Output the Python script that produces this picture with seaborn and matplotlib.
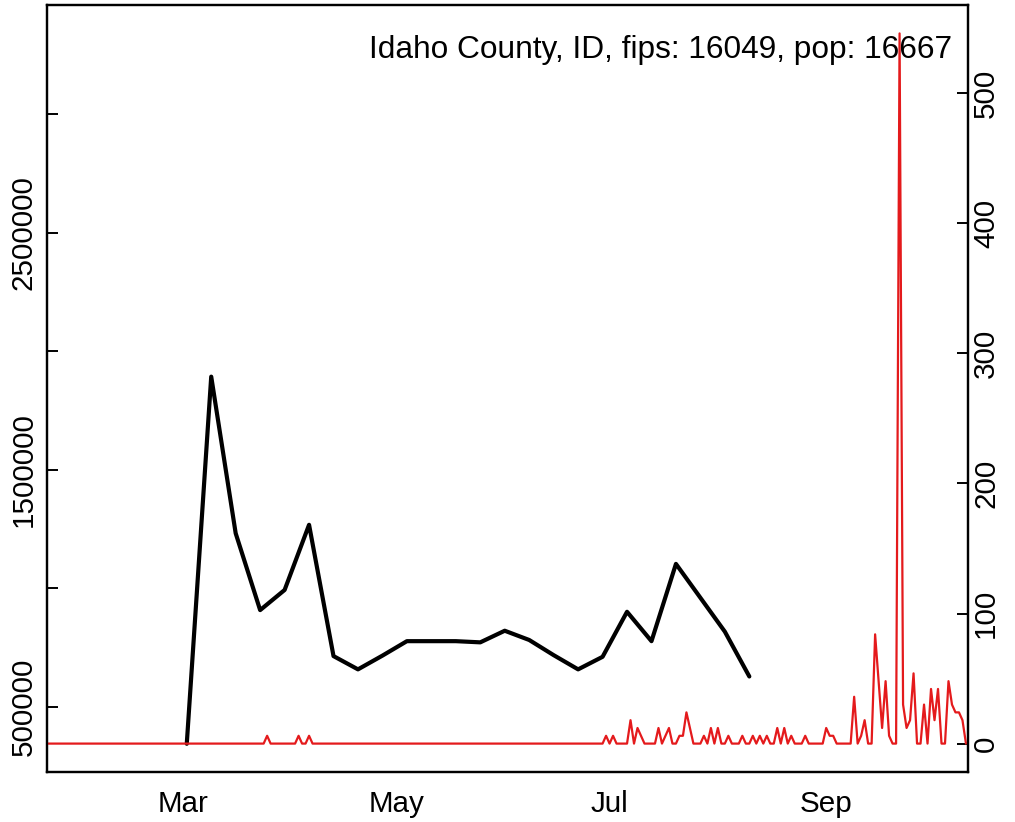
import numpy as np
import pandas as pd
import seaborn as sns
import matplotlib.pyplot as plt
import matplotlib.dates as mdates

# weekly series, left axis
black_start = '2020-03-02'
black_values = [343000, 1892000, 1231000, 907000, 992000, 1267000, 713000, 657000,
                715000, 776000, 776000, 776000, 771000, 820000, 781000, 717000,
                657000, 710000, 900000, 776000, 1102000, 959000, 816000, 627000]

# daily series, right axis (days not listed are 0)
red_first = '2020-01-22'
red_last = '2020-10-11'
red_dates = ['2020-03-25', '2020-04-03', '2020-04-06',
             '2020-06-30', '2020-07-02', '2020-07-07', '2020-07-09', '2020-07-10',
             '2020-07-15', '2020-07-17', '2020-07-18', '2020-07-21', '2020-07-22',
             '2020-07-23', '2020-07-24', '2020-07-28', '2020-07-30', '2020-08-01',
             '2020-08-04', '2020-08-08', '2020-08-11', '2020-08-13', '2020-08-15',
             '2020-08-18', '2020-08-20', '2020-08-22', '2020-08-26',
             '2020-09-01', '2020-09-02', '2020-09-03', '2020-09-09', '2020-09-11',
             '2020-09-12', '2020-09-15', '2020-09-16', '2020-09-17', '2020-09-18',
             '2020-09-19', '2020-09-22', '2020-09-23', '2020-09-24', '2020-09-25',
             '2020-09-26', '2020-09-29', '2020-10-01', '2020-10-02', '2020-10-03',
             '2020-10-06', '2020-10-07', '2020-10-08', '2020-10-09', '2020-10-10']
red_values = [6, 6, 6,
              6, 6, 18, 12, 6,
              12, 6, 12, 6, 6,
              24, 12, 6, 12, 12,
              6, 6, 6, 6, 6,
              12, 12, 6, 6,
              12, 6, 6, 36, 6,
              18, 84, 48, 12, 48,
              6, 546, 30, 12, 18,
              54, 30, 42, 18, 42,
              48, 30, 24, 24, 18]

left_ticks = [500000, 1000000, 1500000, 2000000, 2500000, 3000000]
left_labels = ['500000', '', '1500000', '', '2500000', '']
right_ticks = [0, 100, 200, 300, 400, 500]
month_ticks = ['2020-03-01', '2020-05-01', '2020-07-01', '2020-09-01']
label = 'Idaho County, ID, fips: 16049, pop: 16667'

black = pd.DataFrame({'date': pd.date_range(black_start, periods=len(black_values), freq='7D'),
                      'value': black_values})
red = pd.Series(0.0, index=pd.date_range(red_first, red_last, freq='D'))
red[pd.to_datetime(red_dates)] = red_values
red = red.rename_axis('date').reset_index(name='value')

sns.set_style('white')
plt.rcParams['font.family'] = ['Liberation Sans', 'DejaVu Sans']
plt.rcParams['text.color'] = 'black'
plt.rcParams['xtick.color'] = 'black'
plt.rcParams['ytick.color'] = 'black'

fig = plt.figure(figsize=(10.15, 8.22), dpi=100)
ax = fig.add_axes([47 / 1015, 50 / 822, 921 / 1015, 767 / 822])
sns.lineplot(data=black, x='date', y='value', color='black', linewidth=3, ax=ax)
ax2 = ax.twinx()
sns.lineplot(data=red, x='date', y='value', color='#E41A1C', linewidth=1.6, ax=ax2)

ax.set_xlim(red['date'].iloc[0], red['date'].iloc[-1] + pd.Timedelta(hours=14))
ax.set_ylim(224000, 3460000)
rmax = red['value'].max()
ax2.set_ylim(-0.04 * rmax, 1.04 * rmax)

ax.set_xticks(pd.to_datetime(month_ticks))
ax.xaxis.set_major_formatter(mdates.DateFormatter('%b'))
ax.set_yticks(left_ticks)
ax.set_yticklabels(left_labels)
ax2.set_yticks(right_ticks)

for a in (ax, ax2):
    a.set_xlabel('')
    a.set_ylabel('')
    for s in a.spines.values():
        s.set_visible(True)
        s.set_color('black')
        s.set_linewidth(1.6)
ax.tick_params(axis='x', direction='out', length=7, width=1.4, labelsize=21.3, pad=6)
ax.tick_params(axis='y', direction='in', length=8, width=1.4, labelsize=21.3,
               labelrotation=90, pad=6.5)
ax2.tick_params(axis='y', direction='in', length=8, width=1.4, labelsize=21.3,
                labelrotation=90, pad=3)
for t in ax.get_yticklabels() + ax2.get_yticklabels():
    t.set_verticalalignment('center')

ax.text(0.9826, 0.931, label, ha='right', va='baseline', fontsize=22.8, transform=ax.transAxes)

fig.savefig('out.png', dpi=100)
